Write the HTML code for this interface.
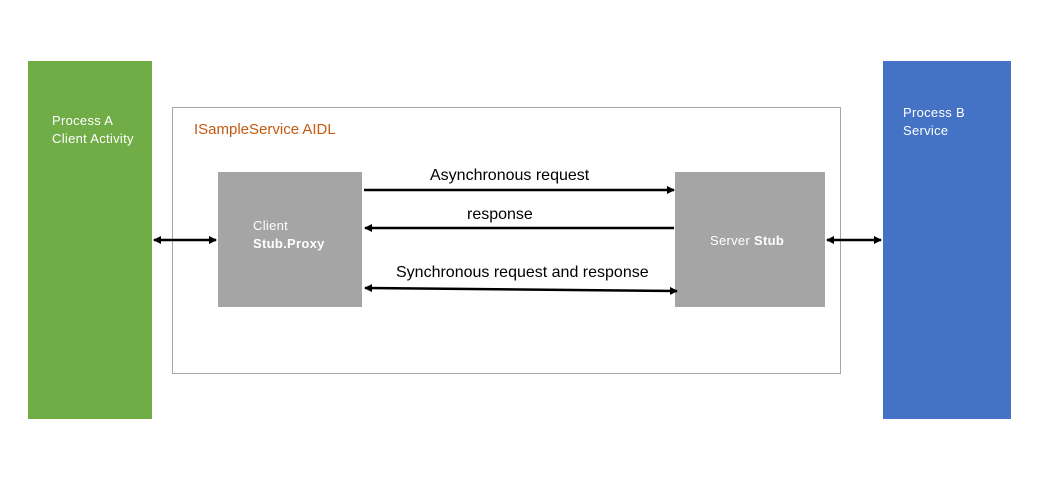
<!DOCTYPE html>
<html><head><style>
body{margin:0;width:1041px;height:493px;background:#fff;position:relative;font-family:"Liberation Sans",sans-serif;overflow:hidden}
.a{position:absolute}
.t{position:absolute;font-size:13px;color:#fff;line-height:18px;letter-spacing:0.3px}
.l{position:absolute;font-size:16px;line-height:18px}
</style></head><body>
<div class="a" style="left:28px;top:61px;width:124px;height:358px;background:#70ad47"></div>
<div class="t" style="left:52px;top:112px">Process A<br>Client Activity</div>
<div class="a" style="left:883px;top:61px;width:128px;height:358px;background:#4472c4"></div>
<div class="t" style="left:903px;top:104px">Process B<br>Service</div>
<div class="a" style="left:172px;top:107px;width:667px;height:265px;border:1px solid #a6a6a6"></div>
<div class="a" style="left:194px;top:121px;font-size:15px;color:#c55a11">ISampleService AIDL</div>
<div class="a" style="left:218px;top:172px;width:144px;height:135px;background:#a5a5a5"></div>
<div class="t" style="left:253px;top:217px">Client<br><b>Stub.Proxy</b></div>
<div class="a" style="left:675px;top:172px;width:150px;height:135px;background:#a5a5a5"></div>
<div class="t" style="left:710px;top:232px">Server <b>Stub</b></div>
<div class="l" style="left:430px;top:167px">Asynchronous request</div>
<div class="l" style="left:467px;top:206px">response</div>
<div class="l" style="left:396px;top:264px">Synchronous request and response</div>
<svg class="a" style="left:0;top:0" width="1041" height="493">
<defs>
<marker id="m" markerWidth="8" markerHeight="8" refX="7" refY="4" orient="auto-start-reverse" markerUnits="userSpaceOnUse"><path d="M0,0L8,4L0,8z" fill="#000"/></marker>
</defs>
<g stroke="#000" stroke-width="2.5" fill="none">
<line x1="364" y1="190" x2="674" y2="190" marker-end="url(#m)"/>
<line x1="674" y1="228" x2="365" y2="228" marker-end="url(#m)"/>
<line x1="365" y1="288" x2="677" y2="291" marker-start="url(#m)" marker-end="url(#m)"/>
<line x1="154" y1="240" x2="216" y2="240" marker-start="url(#m)" marker-end="url(#m)"/>
<line x1="827" y1="240" x2="881" y2="240" marker-start="url(#m)" marker-end="url(#m)"/>
</g>
</svg>
</body></html>
